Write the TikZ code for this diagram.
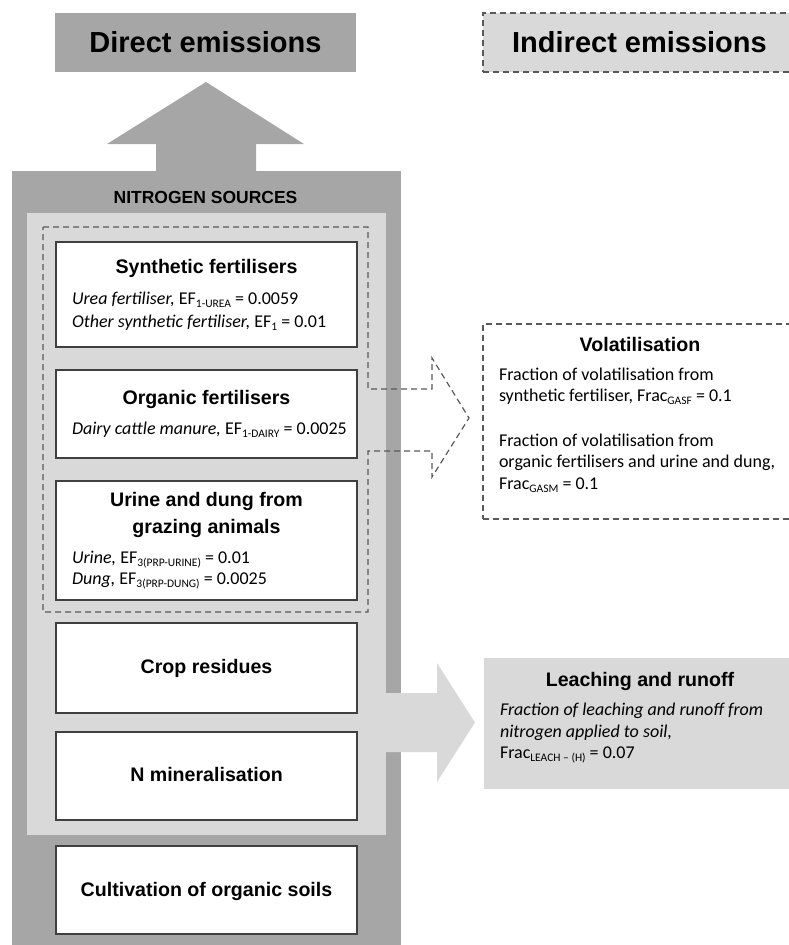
\documentclass[tikz,border=0pt]{standalone}
\usepackage{fontspec}
\setmainfont{Carlito}
\newfontfamily\hfont{Liberation Sans}
\definecolor{dgray}{HTML}{A6A6A6}
\definecolor{lgray}{HTML}{D9D9D9}
\definecolor{bordc}{HTML}{404040}
\definecolor{dashc}{HTML}{595959}
\newcommand\sbs[1]{\raisebox{-0.22em}{\fontsize{11.5}{11.5}\selectfont #1}}
\begin{document}
\begin{tikzpicture}[x=1pt,y=-1pt,
  plain/.style={inner sep=0pt, outer sep=0pt},
  wbox/.style={plain, draw=bordc, line width=1.3pt, fill=white, minimum width=301pt},
  hd/.style={plain, font=\hfont\bfseries\fontsize{29}{34}\selectfont, anchor=base},
  ns/.style={plain, font=\hfont\bfseries\fontsize{17.5}{21}\selectfont, anchor=base},
  ttl/.style={plain, font=\hfont\bfseries\fontsize{19.6}{23}\selectfont, anchor=base},
  txt/.style={plain, font=\fontsize{18}{22}\selectfont, anchor=base west},
  dsh/.style={draw=dashc, line width=1.2pt, dash pattern=on 6pt off 4pt}
]
\useasboundingbox (0,0) rectangle (789,945);

% background frames
\node[plain, fill=dgray, minimum width=389pt, minimum height=780pt] (outer) at (206.5,561) {};
\node[plain, fill=lgray, minimum width=359pt, minimum height=622pt] (inner) at (206.5,524) {};

% headers
\node[plain, fill=dgray, minimum width=301pt, minimum height=59pt] (direct) at (205.5,42.5) {};
\node[plain, dsh, fill=lgray, minimum width=317pt, minimum height=59pt] (indirect) at (641.5,42.5) {};
\node[hd] (directT) at (205.5,52) {Direct emissions};
\node[hd] (indirectT) at (639.5,52) {Indirect emissions};

% up arrow
\fill[dgray] (156,172) -- (156,144) -- (107,144) -- (206,82) -- (304,144) -- (256,144) -- (256,172) -- cycle;

% leaching arrow
\fill[lgray] (386,693) -- (437,693) -- (437,663) -- (475,722.5) -- (437,782) -- (437,752) -- (386,752) -- cycle;

\node[ns] (nsT) at (205.5,203) {NITROGEN SOURCES};

% source boxes
\node[wbox, minimum height=105pt] (syn) at (206.5,294.5) {};
\node[wbox, minimum height=88pt] (org) at (206.5,414) {};
\node[wbox, minimum height=119pt] (uri) at (206.5,540.5) {};
\node[wbox, minimum height=90pt] (crop) at (206.5,668) {};
\node[wbox, minimum height=88pt] (nmin) at (206.5,776) {};
\node[wbox, minimum height=88pt] (cult) at (206.5,890) {};

% dashed group with volatilisation arrow
\draw[dsh] (43,227) -- (368,227) -- (368,389) -- (432,389) -- (432,358) -- (469,418)
  -- (432,477) -- (432,451) -- (368,451) -- (368,612) -- (43,612) -- cycle;

% right boxes
\node[plain, dsh, fill=white, minimum width=317pt, minimum height=195pt] (vol) at (641.5,421.5) {};
\node[plain, fill=lgray, minimum width=316pt, minimum height=131pt] (leach) at (642,723.5) {};

% texts in source boxes
\node[ttl] (synT) at (206.5,273) {Synthetic fertilisers};
\node[txt] (syn1) at (72,304) {\textit{Urea fertiliser,} EF\sbs{1-UREA} = 0.0059};
\node[txt] (syn2) at (72,327) {\textit{Other synthetic fertiliser,} EF\sbs{1} = 0.01};

\node[ttl] (orgT) at (206.5,404) {Organic fertilisers};
\node[txt] (org1) at (72,434) {\textit{Dairy cattle manure,} EF\sbs{1-DAIRY} = 0.0025};

\node[ttl] (uriT1) at (206.5,506) {Urine and dung from};
\node[ttl] (uriT2) at (206.5,533) {grazing animals};
\node[txt] (uri1) at (72,563) {\textit{Urine,} EF\sbs{3(PRP-URINE)} = 0.01};
\node[txt] (uri2) at (72,584) {\textit{Dung,} EF\sbs{3(PRP-DUNG)} = 0.0025};

\node[ttl] (cropT) at (206.5,673) {Crop residues};
\node[ttl] (nminT) at (206.5,781) {N mineralisation};
\node[ttl] (cultT) at (206.5,896) {Cultivation of organic soils};

% volatilisation texts
\node[ttl] (volT) at (640,351) {Volatilisation};
\node[txt] (vol1) at (499,380) {Fraction of volatilisation from};
\node[txt] (vol2) at (499,401) {synthetic fertiliser, Frac\sbs{GASF} = 0.1};
\node[txt] (vol3) at (499,446) {Fraction of volatilisation from};
\node[txt] (vol4) at (499,467) {organic fertilisers and urine and dung,};
\node[txt] (vol5) at (499,489) {Frac\sbs{GASM} = 0.1};

% leaching texts
\node[ttl] (leachT) at (640,686) {Leaching and runoff};
\node[txt] (leach1) at (500,715) {\textit{Fraction of leaching and runoff from}};
\node[txt] (leach2) at (500,737) {\textit{nitrogen applied to soil,}};
\node[txt] (leach3) at (500,758) {Frac\sbs{LEACH -- (H)} = 0.07};
\end{tikzpicture}
\end{document}
